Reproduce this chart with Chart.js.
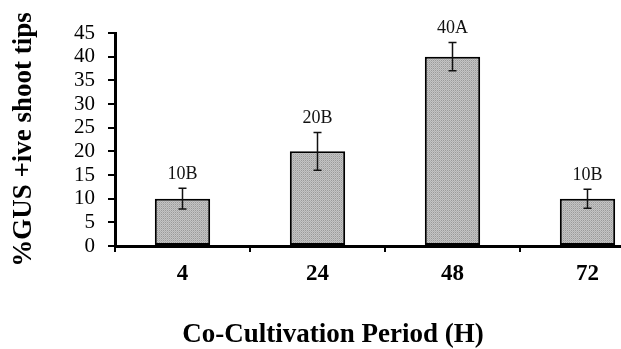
<!DOCTYPE html>
<html lang="en">
<head>
  <meta charset="UTF-8">
  <title>GUS positive shoot tips</title>
  <script src="https://cdn.jsdelivr.net/npm/chart.js"></script>
  <style>
    html, body {
      margin: 0;
      padding: 0;
      background: #fff;
      overflow: hidden;
    }
    .frame {
      width: 621px;
      height: 349px;
      overflow: hidden;
    }
    .holder {
      margin-left: 11px;
      width: 650px;
      height: 349px;
    }
  </style>
</head>
<body>
  <div class="frame">
    <div class="holder">
      <canvas id="gusChart"></canvas>
    </div>
  </div>
  <script>
    // values
    const periods = ['4', '24', '48', '72'];
    const gusPositive = [10, 20, 40, 10];
    const errors = [2.2, 4, 3, 2];
    const letters = ['10B', '20B', '40A', '10B'];

    const serif = "'Liberation Serif', 'DejaVu Serif', serif";

    // dotted grey fill like the original
    function makePattern() {
      const c = document.createElement('canvas');
      c.width = 2;
      c.height = 2;
      const g = c.getContext('2d');
      g.fillStyle = '#c4c4c4';
      g.fillRect(0, 0, 2, 2);
      g.fillStyle = '#9a9a9a';
      g.fillRect(0, 0, 1, 1);
      g.fillStyle = '#b0b0b0';
      g.fillRect(1, 1, 1, 1);
      return g.createPattern(c, 'repeat');
    }

    const errorBars = {
      id: 'errorBars',
      afterDatasetsDraw(chart) {
        const ctx = chart.ctx;
        const y = chart.scales.y;
        const meta = chart.getDatasetMeta(0);
        ctx.save();
        meta.data.forEach((bar, i) => {
          const top = y.getPixelForValue(gusPositive[i] + errors[i]);
          const bottom = y.getPixelForValue(gusPositive[i] - errors[i]);
          ctx.strokeStyle = '#111';
          ctx.lineWidth = 1.5;
          ctx.beginPath();
          ctx.moveTo(bar.x, top);
          ctx.lineTo(bar.x, bottom);
          ctx.moveTo(bar.x - 4, top);
          ctx.lineTo(bar.x + 4, top);
          ctx.moveTo(bar.x - 4, bottom);
          ctx.lineTo(bar.x + 4, bottom);
          ctx.stroke();

          ctx.fillStyle = '#111';
          ctx.font = '18px ' + serif;
          ctx.textAlign = 'center';
          ctx.textBaseline = 'alphabetic';
          ctx.fillText(letters[i], bar.x, top - 9);
        });
        ctx.restore();
      }
    };

    new Chart(document.getElementById('gusChart'), {
      type: 'bar',
      data: {
        labels: periods,
        datasets: [{
          data: gusPositive,
          backgroundColor: makePattern(),
          borderColor: '#000',
          borderWidth: 2,
          borderSkipped: false,
          barPercentage: 0.41,
          categoryPercentage: 1
        }]
      },
      options: {
        responsive: true,
        maintainAspectRatio: false,
        animation: false,
        layout: {
          padding: { top: 33, right: 6, left: 0, bottom: 0 }
        },
        plugins: {
          legend: { display: false },
          tooltip: { enabled: false },
          title: {
            display: true,
            position: 'bottom',
            text: 'Co-Cultivation Period (H)',
            color: '#000',
            font: { family: serif, size: 27, weight: 'bold', lineHeight: 1 },
            padding: 0
          }
        },
        scales: {
          x: {
            afterFit(scale) { scale.height = 76; },
            border: { display: true, color: '#000', width: 3 },
            grid: {
              display: true,
              drawOnChartArea: false,
              drawTicks: true,
              tickLength: 6,
              color: '#000',
              lineWidth: 2
            },
            ticks: {
              color: '#000',
              padding: 8,
              font: { family: serif, size: 23, weight: 'bold' }
            }
          },
          y: {
            min: 0,
            max: 45,
            afterFit(scale) { scale.width = 104; },
            border: { display: true, color: '#000', width: 3 },
            grid: {
              display: true,
              drawOnChartArea: false,
              drawTicks: true,
              tickLength: 7,
              color: '#000',
              lineWidth: 2
            },
            ticks: {
              stepSize: 5,
              autoSkip: false,
              color: '#000',
              padding: 13,
              font: { family: serif, size: 21 }
            },
            title: {
              display: true,
              text: '%GUS +ive shoot tips',
              color: '#000',
              font: { family: serif, size: 27, weight: 'bold', lineHeight: 1 },
              padding: 0
            }
          }
        }
      },
      plugins: [errorBars]
    });
  </script>
</body>
</html>
